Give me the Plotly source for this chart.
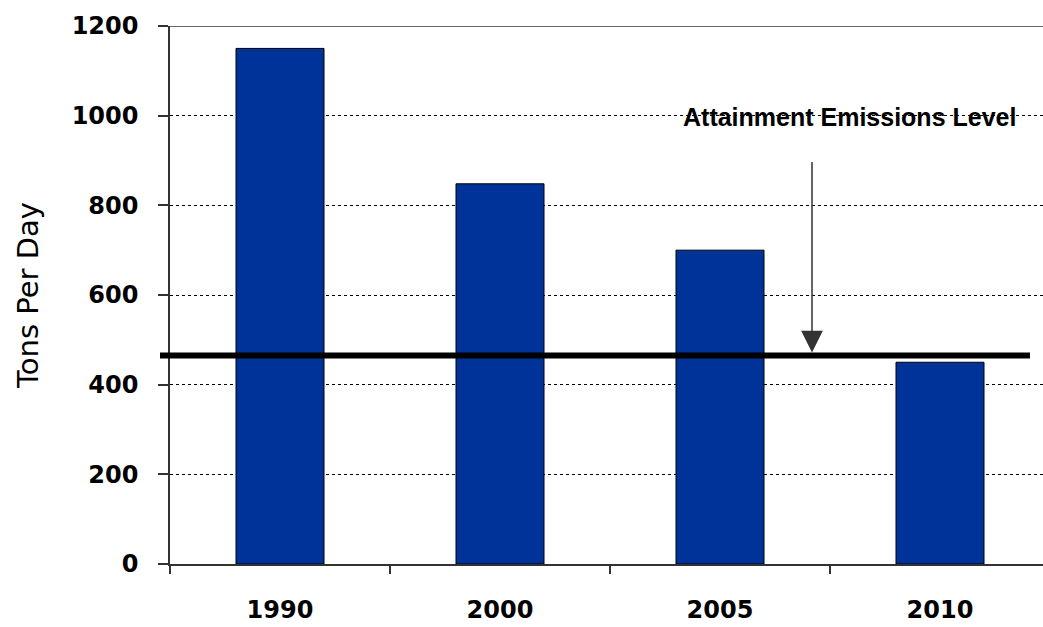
import plotly.graph_objects as go

# ---- data ----
years = ["1990", "2000", "2005", "2010"]
tons_per_day = [1150, 848, 700, 450]
attainment_level = 465
y_ticks = [0, 200, 400, 600, 800, 1000, 1200]
annotation_text = "Attainment Emissions Level"
y_title = "Tons Per Day"

W, H = 1043, 627
L, R, T, B = 170, 0, 26, 63
plot_w = W - L - R

x_range = [-0.5, 3.5 - 7 / 220]

fig = go.Figure()
fig.add_trace(go.Bar(
    x=years,
    y=tons_per_day,
    width=0.4,
    marker=dict(color="#003399", line=dict(color="#000000", width=1)),
    hoverinfo="x+y",
))

tick_font = dict(family="DejaVu Sans", size=24, color="#000000", weight="bold")

fig.update_layout(
    width=W, height=H,
    margin=dict(l=L, r=R, t=T, b=B, pad=0),
    paper_bgcolor="#ffffff",
    plot_bgcolor="#ffffff",
    showlegend=False,
    bargap=0.6,
    xaxis=dict(
        type="category",
        range=x_range,
        showline=True, linecolor="#333333", linewidth=1.5,
        ticks="outside", tickson="boundaries", ticklen=8, tickwidth=1.5, tickcolor="#333333",
        showgrid=False, zeroline=False,
        tickfont=tick_font,
        ticklabelstandoff=23,
    ),
    yaxis=dict(
        range=[0, 1200],
        tickvals=y_ticks,
        showline=True, linecolor="#333333", linewidth=1.5,
        ticks="outside", ticklen=10, tickwidth=1.5, tickcolor="#333333",
        showgrid=True, gridcolor="#000000", gridwidth=1, griddash="dot",
        zeroline=False,
        tickfont=tick_font,
        ticklabelstandoff=15,
        title=dict(text=y_title, font=dict(family="DejaVu Sans", size=29, color="#000000"), standoff=25),
    ),
)

# solid top border line at the top of the value range
fig.add_shape(type="line", xref="paper", yref="y",
              x0=-10 / plot_w, x1=1.02, y0=y_ticks[-1], y1=y_ticks[-1],
              line=dict(color="#333333", width=1.5), layer="above")

# attainment emission level line
fig.add_shape(type="line", xref="paper", yref="y",
              x0=-10 / plot_w, x1=(1030 - L) / plot_w,
              y0=attainment_level, y1=attainment_level,
              line=dict(color="#000000", width=6), layer="above")

# arrow pointing to the attainment level
fig.add_annotation(
    x=(812 - L) / plot_w, xref="paper", y=attainment_level, yref="y",
    text="", showarrow=True, axref="pixel", ayref="pixel", ax=0, ay=-195,
    arrowhead=2, arrowsize=2.9, arrowwidth=1.5, arrowcolor="#333333",
    standoff=3,
)

fig.add_annotation(
    x=(849 - L) / plot_w, xref="paper", y=(564 - 117) / 538, yref="paper",
    text=annotation_text, showarrow=False,
    font=dict(family="Liberation Sans", size=25, color="#000000", weight="bold"),
    xanchor="center", yanchor="middle",
)

fig.write_html("out.html")
